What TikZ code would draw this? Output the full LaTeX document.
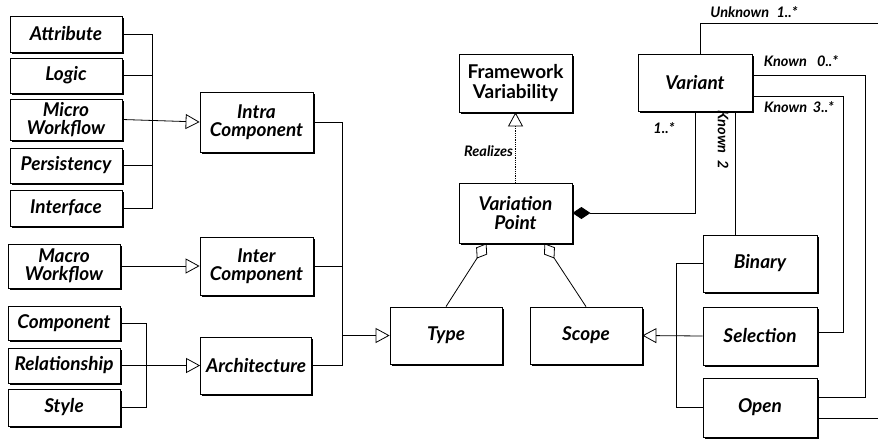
\documentclass[tikz,border=0pt]{standalone}
\usepackage{fontspec}
\setmainfont{Lato}
\usetikzlibrary{arrows.meta,shadows,calc}
\tikzset{
  box/.style={draw,thick,fill=white,minimum width=112pt,minimum height=#1,inner sep=1pt,align=center,
    font=\fontsize{19}{18.5}\selectfont\bfseries\itshape,
    drop shadow={shadow xshift=1.6pt,shadow yshift=-1.6pt,opacity=1,fill=black}},
  box/.default=36pt,
  conn/.style={line width=0.8pt},
  gen/.style={conn,-{Triangle[open,length=14pt,width=15pt,line width=0.8pt]}},
  comp/.style={conn,{Diamond[length=18pt,width=12pt]}-},
  aggr/.style={conn,{Diamond[open,length=18pt,width=13pt,line width=0.8pt]}-},
  lbl/.style={font=\fontsize{14.5}{15}\selectfont\bfseries\itshape,inner sep=0pt},
}
\begin{document}
\begin{tikzpicture}[x=1pt,y=-1pt]
\useasboundingbox (0,0) rectangle (878,439);
% left column
\node[box] (attr) at (66,34) {Attribute};
\node[box=35pt] (logic) at (66,75.5) {Logic};
\node[box=41pt] (micro) at (66,119.5) {Micro\\Workflow};
\node[box=35pt] (pers) at (66,165.5) {Persistency};
\node[box] (iface) at (66,208) {Interface};
\node[box=44pt] (macro) at (64,266) {Macro\\Workflow};
\node[box=34pt] (compo) at (64,323) {Component};
\node[box=35pt] (rel) at (64,365.5) {Relationship};
\node[box=37pt] (style) at (64,407.5) {Style};
% middle column
\node[box=60pt,minimum width=113pt] (intra) at (256.5,122) {Intra\\Component};
\node[box=58pt,minimum width=113pt] (inter) at (256.5,266) {Inter\\Component};
\node[box=57pt,minimum width=111pt] (arch) at (256,365.5) {Architecture};
% center
\node[box=57pt] (type) at (446,335.5) {Type};
\node[box=57pt] (scope) at (586,335.5) {Scope};
\node[box=58pt,minimum width=113pt,font=\fontsize{19}{19.5}\selectfont\bfseries] (fv) at (515.5,83) {Framework\\Variability};
\node[box=60pt,minimum width=113pt] (vp) at (515.5,213) {Variation\\Point};
% right
\node[box=57pt,minimum width=114pt] (variant) at (695,82.5) {Variant};
\node[box=57pt,minimum width=114pt] (binary) at (760,263.5) {Binary};
\node[box=58pt,minimum width=114pt] (sel) at (760,336) {Selection};
\node[box=59pt,minimum width=114pt] (open) at (760,407.5) {Open};
% bus coordinates
\coordinate (busA) at (152,119.5);
\coordinate (busB) at (342,335.5);
\coordinate (busC) at (146,365.5);
\coordinate (busD) at (676,336);
\coordinate (k0) at (865,0);
\coordinate (k3) at (843,0);
\coordinate (edge) at (878,0);
% intra component group
\draw[conn] (attr.east) -| (busA);
\draw[conn] (logic.east) -| (busA);
\draw[conn] (pers.east) -| (busA);
\draw[conn] (iface.east) -| (busA);
\draw[gen] (micro.east) -- (intra.west);
\draw[gen] (macro.east) -- (inter.west);
\draw[conn] (compo.east) -| (busC);
\draw[conn] (style.east) -| (busC);
\draw[gen] (rel.east) -- (arch.west);
% type group
\draw[conn] (intra.east) -| (busB);
\draw[conn] (inter.east) -| (busB);
\draw[conn] (arch.east) -| (busB);
\draw[gen] (busB) -- (type.west);
% scope group
\draw[conn] (binary.west) -| (busD);
\draw[conn] (open.west) -| (busD);
\draw[gen] (sel.west) -- (scope.east);
% realizes
\draw[conn,densely dotted,-{Triangle[open,length=14pt,width=15pt,line width=0.8pt]}] (vp.north) -- node[lbl,left=2pt,pos=0.45] (real) {Realizes} (fv.south);
% aggregations
\draw[aggr] ([xshift=-29pt]vp.south) -- (type.north);
\draw[aggr] ([xshift=29pt]vp.south) -- (scope.north);
% composition
\draw[comp] (vp.east) -| (variant.south);
\node[lbl] (m1) at (664,128) {1..*};
% known 2
\draw[conn] ([xshift=40pt]variant.south) -- ([xshift=40pt]variant.south |- binary.north);
\node[lbl,rotate=-90] (k2l) at (723,140) {Known\hspace{0.5em}2};
% known 0..*
\draw[conn] ([yshift=7.5pt]variant.east) -- ([yshift=7.5pt]variant.east -| k0) -- ([yshift=10.5pt]open.east -| k0) -- ([yshift=10.5pt]open.east);
\node[lbl] (k0l) at (801,61) {Known\hspace{0.7em}0..*};
% known 3..*
\draw[conn] ([yshift=-13.5pt]variant.east) -- ([yshift=-13.5pt]variant.east -| k3) -- ([yshift=4pt]sel.east -| k3) -- ([yshift=4pt]sel.east);
\node[lbl] (k3l) at (799,107) {Known\hspace{0.4em}3..*};
% unknown
\coordinate (utop) at (700,23);
\draw[conn] ([xshift=5pt]variant.north) -- (utop) -- (utop -| edge);
\node[lbl] (ul) at (754,12) {Unknown\hspace{0.5em}1..*};
\draw[conn] ([yshift=-10.5pt]open.east) -- ([yshift=-10.5pt]open.east -| edge);
\end{tikzpicture}
\end{document}
